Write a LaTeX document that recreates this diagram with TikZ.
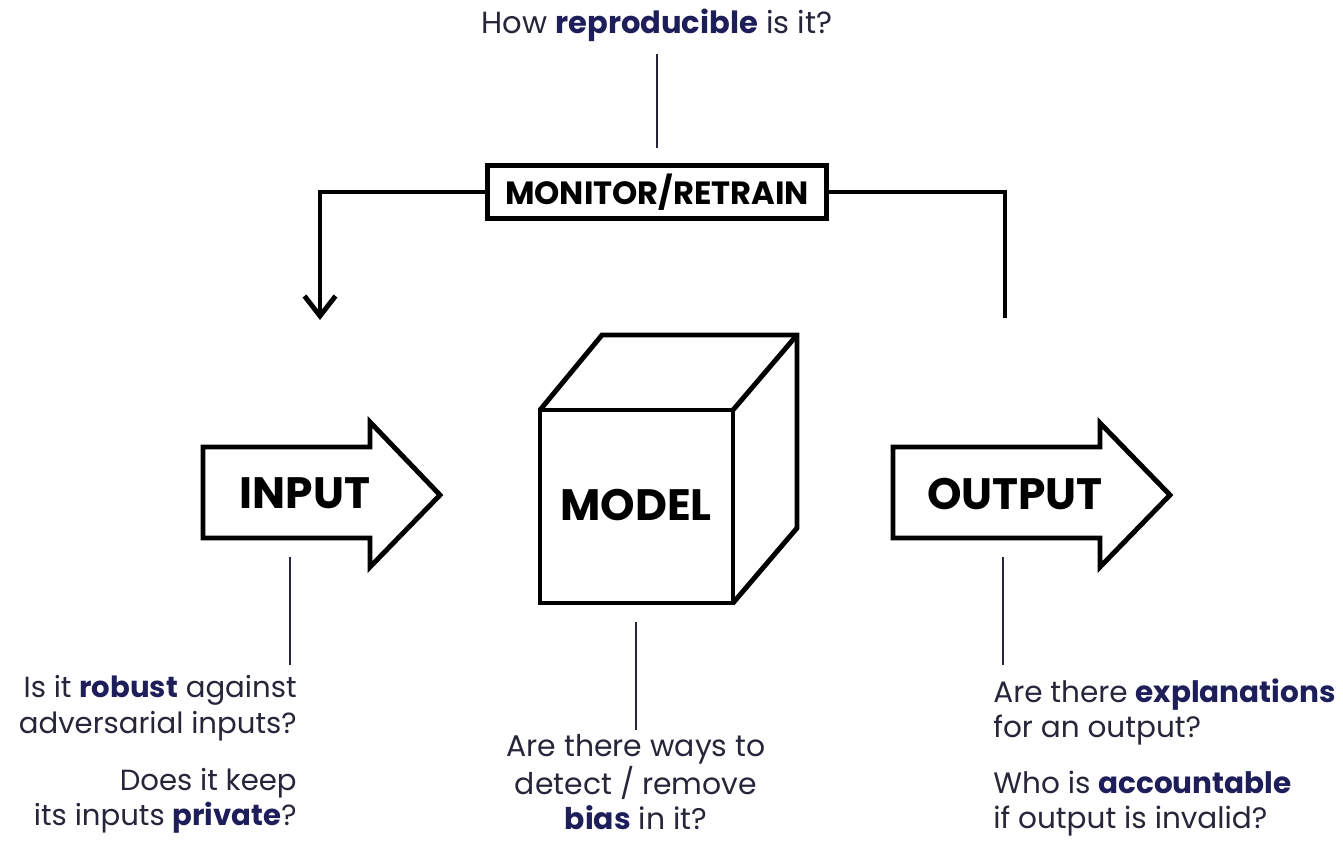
\documentclass[tikz,border=0pt]{standalone}
\usepackage{fontspec}
\setmainfont{Poppins}
\usetikzlibrary{arrows.meta}
\definecolor{navy}{HTML}{1E1E5A}
\definecolor{ink}{HTML}{26263A}
\newcommand{\hl}[1]{\textbf{\color{navy}#1}}

\begin{document}
\begin{tikzpicture}[x = 0.02cm, y = -0.02cm]
	\tikzstyle{thickLine} = [line width = 2.8pt, black, line join = miter]
	\tikzstyle{thinLine} = [line width = 1.1pt, ink]
	\tikzstyle{questionStyle} = [inner sep = 0pt, text = ink, font = \fontsize{17}{20.2}\selectfont]
	\tikzstyle{labelStyle} = [inner sep = 0pt, font = \fontsize{25}{29}\selectfont\bfseries]
	\useasboundingbox (0,0) rectangle (1343,840);
	\node[questionStyle, anchor = base, font = \fontsize{17.4}{21}\selectfont] (repro) at (657,33) {How \hl{reproducible} is it?};
	\node[draw, line width = 2.8pt, minimum width = 6.78cm, minimum height = 1.06cm, inner sep = 0pt, font = \fontsize{18.3}{22}\selectfont\bfseries] (monitor) at (657,192) {MONITOR/RETRAIN};
	\coordinate (inBack) at (320,320);
	\coordinate (outBack) at (1005,318);
	\draw[thinLine, shorten <= 0.25cm, shorten >= 0.3cm] (repro.south) -- (monitor.north);
	\draw[thickLine, -{Straight Barb[length = 0.4cm, width = 0.62cm]}] (monitor.west) -| (inBack);
	\draw[thickLine] (monitor.east) -| (outBack);
	\draw[thickLine] (203,447) -- (370,447) -- (370,422) -- (440,495) -- (370,567) -- (370,538) -- (203,538) -- cycle;
	\node[labelStyle] (input) at (305,493) {INPUT};
	\draw[thickLine] (540,410) rectangle (733,603);
	\draw[thickLine] (540,410) -- (602,335) -- (797,335) -- (797,528) -- (733,603);
	\draw[thickLine] (733,410) -- (797,335);
	\node[labelStyle] (model) at (636,505) {MODEL};
	\draw[thickLine] (893,447) -- (1100,447) -- (1100,423) -- (1170,495) -- (1100,567) -- (1100,538) -- (893,538) -- cycle;
	\node[labelStyle] (output) at (1015,494) {OUTPUT};
	\node[questionStyle, anchor = north east, align = right, font = \fontsize{16.6}{20.2}\selectfont] (robust) at (297,675) {Is it \hl{robust} against\\adversarial inputs?\\[0.43cm]Does it keep\\its inputs \hl{private}?};
	\node[questionStyle, anchor = north, align = center] (bias) at (636,734) {Are there ways to\\detect / remove\\\hl{bias} in it?};
	\node[questionStyle, anchor = north west, align = left, font = \fontsize{16.8}{20}\selectfont] (explain) at (993,678) {Are there \hl{explanations}\\for an output?\\[0.42cm]Who is \hl{accountable}\\if output is invalid?};
	\coordinate (inputQ) at (290,557);
	\coordinate (modelQ) at (636,622);
	\coordinate (outputQ) at (1003,557);
	\draw[thinLine] (inputQ) -- (inputQ |- 0,665);
	\draw[thinLine] (modelQ) -- (modelQ |- 0,730);
	\draw[thinLine] (outputQ) -- (outputQ |- 0,665);
\end{tikzpicture}
\end{document}
